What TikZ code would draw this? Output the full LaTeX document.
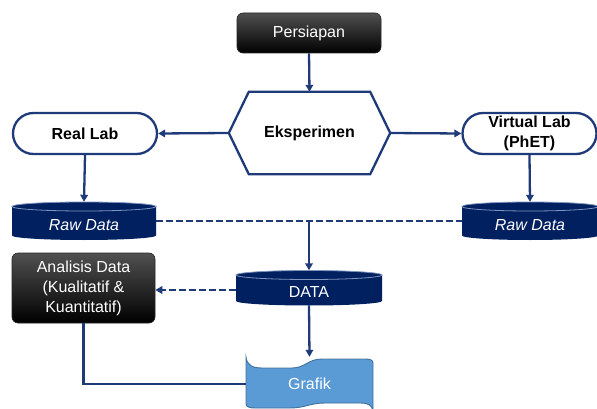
\documentclass[tikz,border=0pt]{standalone}
\usepackage{fontspec}
\setmainfont{Liberation Sans}
\usetikzlibrary{shapes.misc,arrows.meta,calc}
\definecolor{navyline}{HTML}{1F3A78}
\definecolor{cylblue}{HTML}{002060}
\definecolor{cylrim}{HTML}{7F93BF}
\definecolor{grafikfill}{HTML}{5B9BD5}
\definecolor{grafikline}{HTML}{41719C}
\definecolor{boxtop}{HTML}{505050}
\newcommand\mycyl[4]{%
  \fill[cylblue] ({#1-#3},{#2-#4+4.5}) -- ({#1-#3},{#2+#4-4.5})
    arc[start angle=180,end angle=360,x radius=#3pt,y radius=4.5pt]
    -- ({#1+#3},{#2-#4+4.5})
    arc[start angle=0,end angle=180,x radius=#3pt,y radius=4.5pt] -- cycle;
  \draw[cylrim,line width=0.8pt] (#1,{#2-#4+4.5}) ellipse[x radius=#3pt,y radius=4.5pt];
}
\tikzset{
  conn/.style={draw=navyline, line width=2.3pt},
  arr/.style={-{Triangle[length=7pt,width=7.5pt]}},
  dashline/.style={dash pattern=on 6.5pt off 3.5pt},
  txt/.style={font=\fontsize{16}{20}\selectfont, align=center, inner sep=0pt},
  blackbox/.style={txt, rectangle, rounded corners=6pt, top color=boxtop, bottom color=black, draw=black!85, line width=0.6pt, text=white},
  pill/.style={txt, rounded rectangle, draw=navyline, line width=2.3pt, fill=white, font=\bfseries\fontsize{16}{20}\selectfont},
  hexnode/.style={txt, rectangle, font=\bfseries\fontsize{16}{20}\selectfont, minimum width=161pt, minimum height=82pt},
  cylanchor/.style={rectangle, inner sep=0pt},
  cyllabel/.style={txt, text=white, yshift=-4pt},
}
\begin{document}
\begin{tikzpicture}[x=1pt,y=-1pt]
\useasboundingbox (0,0) rectangle (597,409);

% Persiapan
\node[blackbox, minimum width=144pt, minimum height=40pt] (pers) at (309,33) {Persiapan};

% Eksperimen hexagon
\node[hexnode] (eks) at (309.5,133) {Eksperimen};
\draw[navyline, line width=2.3pt, line join=miter] (eks.west) -- ([xshift=20pt]eks.north west) -- ([xshift=-20pt]eks.north east) -- (eks.east) -- ([xshift=-20pt]eks.south east) -- ([xshift=20pt]eks.south west) -- cycle;

% Real Lab / Virtual Lab
\node[pill, minimum width=144pt, minimum height=41pt] (rl) at (85,133.5) {Real Lab};
\node[pill, minimum width=134pt, minimum height=41pt] (vl) at (529.5,133.5) {Virtual Lab\\(PhET)};

% Raw Data cylinders
\mycyl{84}{221}{72}{19}
\node[cylanchor, minimum width=144pt, minimum height=38pt, label={[cyllabel]center:{\itshape Raw Data}}] (rd1) at (84,221) {};
\mycyl{530}{221}{68}{19}
\node[cylanchor, minimum width=136pt, minimum height=38pt, label={[cyllabel]center:{\itshape Raw Data}}] (rd2) at (530,221) {};

% DATA cylinder
\mycyl{309}{288}{73}{17.5}
\node[cylanchor, minimum width=146pt, minimum height=35pt, label={[cyllabel]center:DATA}] (data) at (309,288) {};

% Analisis Data
\node[blackbox, minimum width=143pt, minimum height=70pt] (an) at (83.5,288) {Analisis Data\\(Kualitatif \&\\Kuantitatif)};

% Grafik shape
\path[fill=grafikfill, draw=grafikline, line width=0.9pt]
  (246,357) .. controls (247,365) and (252,368) .. (262,368) -- (292,368)
  .. controls (305,368) and (308,359) .. (322,359) -- (365,359)
  .. controls (370,359) and (373,360) .. (373,363) -- (373,411)
  .. controls (372,405) and (368,403) .. (360,403) -- (325,403)
  .. controls (310,403) and (305,408) .. (290,408) -- (255,408)
  .. controls (250,408) and (246,407) .. (246,404) -- cycle;
\node[txt, text=white, minimum width=127pt, minimum height=54pt] (gr) at (309.5,384) {Grafik};

% Connectors
\draw[conn, arr] (pers.south) -- (eks.north);
\draw[conn, arr] (eks.west) -- (rl.east);
\draw[conn, arr] (eks.east) -- (vl.west);
\draw[conn, arr] (rl.south) -- (rd1.north);
\draw[conn, arr] (vl.south) -- (rd2.north);
\draw[conn, dashline] (rd1.east) -- (rd2.west);
\coordinate (mid) at (data.north |- rd1.east);
\draw[conn, arr] (mid) -- (data.north);
\draw[conn, dashline, arr] ([yshift=-2pt]data.west) -- ([yshift=-2pt]data.west -| an.east);
\draw[conn, arr] (data.south) -- (gr.north);
\draw[conn] (an.south) |- (gr.west);
\end{tikzpicture}
\end{document}
